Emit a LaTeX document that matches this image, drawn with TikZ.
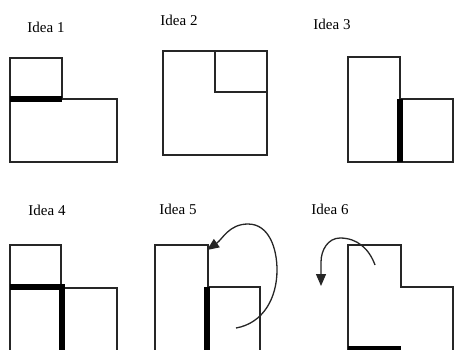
\documentclass[tikz,border=0pt]{standalone}
\usepackage{fontspec}
\setmainfont{Liberation Serif}
\usetikzlibrary{arrows.meta}
\begin{document}
\begin{tikzpicture}[x=1pt,y=-1pt,
  thin line/.style={draw=black!85,line width=1.4pt},
  thick bar/.style={draw=black,line width=6pt},
  curve arrow/.style={draw=black!85,line width=1.3pt,-{Triangle[length=12pt,width=10pt]}},
  idea/.style={font=\fontsize{15}{17}\selectfont,inner sep=0pt}]
\useasboundingbox (0,0) rectangle (454,349);
% labels
\node[idea] (l1) at (46,27) {Idea 1};
\node[idea] (l2) at (179,20) {Idea 2};
\node[idea] (l3) at (332,24) {Idea 3};
\node[idea] (l4) at (47,210) {Idea 4};
\node[idea] (l5) at (178,209) {Idea 5};
\node[idea] (l6) at (330,209) {Idea 6};
% Idea 1
\draw[thin line] (10,58) rectangle (62,99);
\draw[thin line] (10,99) rectangle (117,162);
\draw[thick bar] (10,99) -- (62,99);
% Idea 2
\draw[thin line] (163,51) rectangle (267,155);
\draw[thin line] (215,51) -- (215,92) -- (267,92);
% Idea 3
\draw[thin line] (348,57) rectangle (400,162);
\draw[thin line] (400,99) rectangle (453,162);
\draw[thick bar] (400,99) -- (400,162);
% Idea 4
\draw[thin line] (10,351) -- (10,245) -- (61,245) -- (61,351);
\draw[thin line] (61,288) -- (117,288) -- (117,351);
\draw[thick bar] (10,287) -- (65,287);
\draw[thick bar] (62,287) -- (62,352);
% Idea 5
\draw[thin line] (155,351) -- (155,245) -- (208,245) -- (208,351);
\draw[thin line] (208,287) -- (260,287) -- (260,351);
\draw[thick bar] (207,287) -- (207,352);
\coordinate (a5s) at (236,328);
\coordinate (a5m) at (277,270);
\coordinate (a5t) at (248,224);
\coordinate (a5e) at (207,250);
\draw[curve arrow] (a5s) to[out=10,in=-90] (a5m) to[out=90,in=0] (a5t) to[out=180,in=35] (a5e);
% Idea 6
\draw[thin line] (348,351) -- (348,245) -- (401,245) -- (401,287) -- (453,287) -- (453,351);
\draw[thick bar] (348,349) -- (401,349);
\coordinate (a6s) at (375,265);
\coordinate (a6t) at (340,238);
\coordinate (a6e) at (321,286);
\draw[curve arrow] (a6s) to[out=110,in=0] (a6t) to[out=180,in=90] (321,262) -- (a6e);
\end{tikzpicture}
\end{document}
